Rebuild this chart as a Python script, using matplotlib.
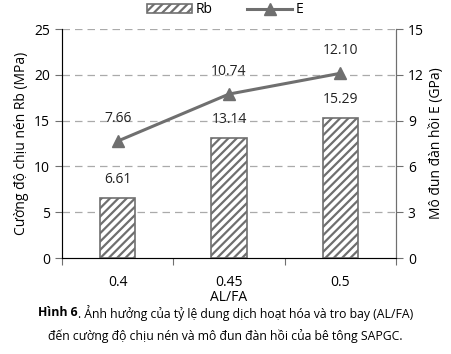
import matplotlib
matplotlib.use("Agg")
import matplotlib.pyplot as plt
import numpy as np

categories = ["0.4", "0.45", "0.5"]
rb_values = [6.61, 13.14, 15.29]
e_values = [7.66, 10.74, 12.10]
rb_ticks = [0, 5, 10, 15, 20, 25]
e_ticks = [0, 3, 6, 9, 12, 15]

gray = "#6f6f6f"
plt.rcParams['font.family'] = ['Open Sans', 'DejaVu Sans']
plt.rcParams['hatch.color'] = gray
plt.rcParams['hatch.linewidth'] = 1.6

fig = plt.figure(figsize=(4.51, 3.54), dpi=100)
ax = fig.add_axes([0.1375, 0.271, 0.7405, 0.647])
x = np.arange(len(categories))
bars = ax.bar(x, rb_values, width=0.32, facecolor="white", edgecolor=gray,
              hatch="////", linewidth=1.2, label="Rb", zorder=3)
ax.set_ylim(0, 25)
ax.set_xlim(-0.5, 2.5)
ax.set_yticks(rb_ticks)
for t in rb_ticks[1:]:
    ax.axhline(t, color="#aaaaaa", lw=0.9, ls=(0, (6, 4)), zorder=1)
for xi, v in zip(x, rb_values):
    ax.text(xi, v + 1.2, f"{v:.2f}", ha="center", va="bottom", fontsize=10, color="#222222")
ax.set_xticks([-0.5, 0.5, 1.5, 2.5])
ax.set_xticklabels([])
ax.set_xticks(x, minor=True)
ax.set_xticklabels(categories, minor=True, fontsize=10)
ax.tick_params(axis="x", which="minor", length=0, pad=12)
ax.tick_params(axis="x", which="major", length=5, color=gray, direction="out")
ax.tick_params(axis="y", length=5, color=gray, labelsize=10)
ax.set_xlabel("AL/FA", fontsize=10, labelpad=0)
ax.set_ylabel("Cường độ chịu nén Rb (MPa)", fontsize=10)
ax.spines["top"].set_visible(False)
for s in ["left", "bottom", "right"]:
    ax.spines[s].set_color(gray)

ax2 = ax.twinx()
line, = ax2.plot(x, e_values, color=gray, lw=2.2, marker="^", markersize=9, label="E", zorder=4)
ax2.set_ylim(0, 15)
ax2.set_yticks(e_ticks)
ax2.tick_params(axis="y", length=5, color=gray, labelsize=10)
ax2.set_ylabel("Mô đun đàn hồi E (GPa)", fontsize=10)
ax2.spines["top"].set_visible(False)
ax2.spines["right"].set_color(gray)
for xi, v in zip(x, e_values):
    ax2.text(xi, v + 1.0, f"{v:.2f}", ha="center", va="bottom", fontsize=10, color="#222222")

fig.legend(handles=[bars, line], labels=["Rb", "E"], loc="center", bbox_to_anchor=(0.5, 0.972),
           ncol=2, frameon=False, fontsize=10, handlelength=3.2, columnspacing=2.5,
           handletextpad=0.3)

cap_fs = 8.8
bold_part = "Hình 6"
rest_part = ". Ảnh hưởng của tỷ lệ dung dịch hoạt hóa và tro bay (AL/FA)"
renderer = fig.canvas.get_renderer()
tb = fig.text(0, 0.117, bold_part, fontsize=cap_fs, fontweight="bold", va="center")
tr = fig.text(0, 0.117, rest_part, fontsize=cap_fs, va="center")
wb = tb.get_window_extent(renderer).width
wr = tr.get_window_extent(renderer).width
W = fig.bbox.width
x0 = (W - wb - wr) / 2
tb.set_x(x0 / W)
tr.set_x((x0 + wb) / W)
fig.text(0.5, 0.05, "đến cường độ chịu nén và mô đun đàn hồi của bê tông SAPGC.",
         ha="center", va="center", fontsize=cap_fs)

fig.savefig("out.png", dpi=100)
